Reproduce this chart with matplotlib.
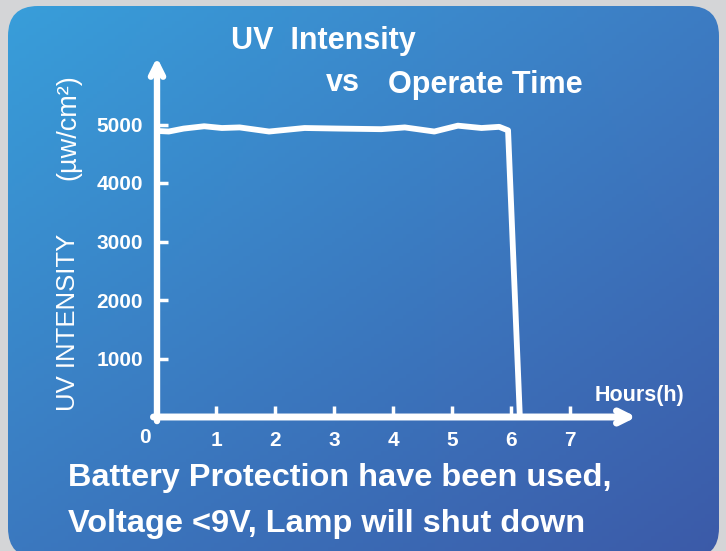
import numpy as np
import matplotlib.pyplot as plt
from matplotlib.patches import FancyBboxPatch

# data
hours = [0, 0.2, 0.45, 0.8, 1.1, 1.4, 1.9, 2.5, 3.1, 3.8, 4.2, 4.7, 5.1, 5.5, 5.8, 5.95, 6.15]
intensity = [4890, 4880, 4930, 4970, 4940, 4950, 4880, 4940, 4930, 4920, 4950, 4880, 4980, 4940, 4960, 4900, 0]
x_ticks = [1, 2, 3, 4, 5, 6, 7]
y_ticks = [1000, 2000, 3000, 4000, 5000]

W, H = 726, 551
arial = ['Liberation Sans', 'DejaVu Sans']

fig = plt.figure(figsize=(W / 100, H / 100), dpi=100)
fig.patch.set_facecolor('#d4d5d7')

# background panel with gradient
bg = fig.add_axes([0, 0, 1, 1])
bg.set_xlim(0, W)
bg.set_ylim(H, 0)
bg.axis('off')
tl = np.array([0x38, 0x9e, 0xda]) / 255
tr = np.array([0x3d, 0x7c, 0xc3]) / 255
bl = np.array([0x3b, 0x78, 0xbf]) / 255
br = np.array([0x3b, 0x5a, 0xa8]) / 255
u = np.linspace(0, 1, 200)[None, :, None]
v = np.linspace(0, 1, 150)[:, None, None]
grad = (1 - u) * (1 - v) * tl + u * (1 - v) * tr + (1 - u) * v * bl + u * v * br
panel = FancyBboxPatch((8, 6), 711, 552, boxstyle='round,pad=0,rounding_size=30',
                       transform=bg.transData, facecolor='none', edgecolor='none')
bg.add_patch(panel)
im = bg.imshow(grad, extent=[8, 719, 558, 6], aspect='auto', zorder=0)
im.set_clip_path(panel)

# chart axes: x=0 at px 157, 59 px per hour; y=0 at px 417, 58.5 px per 1000
x0, y0 = 157, 417
xmax = (640 - x0) / 59
ymax = (y0 - 55) / 58.5 * 1000
ax = fig.add_axes([x0 / W, 1 - y0 / H, (640 - x0) / W, (y0 - 55) / H])
ax.set_xlim(0, xmax)
ax.set_ylim(0, ymax)
ax.patch.set_alpha(0)
for s in ax.spines.values():
    s.set_visible(False)

ax.plot(hours, intensity, color='white', lw=4.2, solid_joinstyle='round',
        solid_capstyle='round', zorder=3)

ax.annotate('', xy=(xmax - 0.06, 0), xytext=(-0.06, 0),
            arrowprops=dict(arrowstyle='->', lw=5, color='white', mutation_scale=22,
                            shrinkA=0, shrinkB=0))
ax.annotate('', xy=(0, ymax - 40), xytext=(0, -70),
            arrowprops=dict(arrowstyle='->', lw=4.6, color='white', mutation_scale=22,
                            shrinkA=0, shrinkB=0))

ax.set_xticks(x_ticks)
ax.set_xticklabels([str(t) for t in x_ticks])
ax.set_yticks(y_ticks)
ax.set_yticklabels([str(t) for t in y_ticks])
ax.tick_params(axis='x', direction='in', length=8, width=2.5, color='white', pad=10,
               labelcolor='white', labelsize=15)
ax.tick_params(axis='y', direction='in', length=8, width=2.5, color='white', pad=10,
               labelcolor='white', labelsize=15)
for lab in ax.get_xticklabels() + ax.get_yticklabels():
    lab.set_family(arial)
    lab.set_fontweight('bold')
ax.text(-0.2, -350, '0', color='white', fontsize=15, fontweight='bold', family=arial,
        ha='center', va='center', clip_on=False)

def put(x, y, s, **kw):
    fig.text(x / W, 1 - y / H, s, color='white', **kw)

put(639, 395, 'Hours(h)', fontsize=15.5, fontweight='bold', family=arial, ha='center', va='center')
put(231, 41, 'UV  Intensity', fontsize=22, fontweight='bold', family=arial, ha='left', va='center')
put(326, 83, 'vs', fontsize=22, fontweight='bold', family=arial, ha='left', va='center')
put(388, 85, 'Operate Time', fontsize=22, fontweight='bold', family=arial, ha='left', va='center')
put(68, 322, 'UV INTENSITY', fontsize=18.5, family=arial, rotation=90, ha='center', va='center')
put(68, 127, '(µw/cm²)', fontsize=19.5, family=arial, rotation=90, ha='center', va='center')
put(68, 478, 'Battery Protection have been used,', fontsize=23.4, fontweight='bold',
    family=arial, ha='left', va='center')
put(68, 524, 'Voltage <9V, Lamp will shut down', fontsize=23.4, fontweight='bold',
    family=arial, ha='left', va='center')

fig.savefig('out.png', dpi=100, facecolor=fig.get_facecolor())
